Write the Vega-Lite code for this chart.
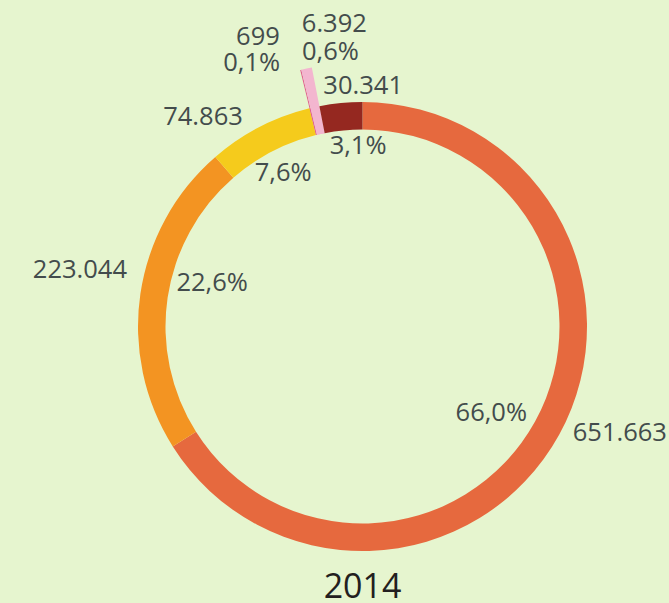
{
  "$schema": "https://vega.github.io/schema/vega-lite/v6.json",
  "autosize": {"type": "none"},
  "padding": {"left": 62.5, "top": 86.5, "right": 6.5, "bottom": 36.5},
  "width": 600,
  "height": 480,
  "background": "#E6F5CF",
  "config": {"view": {"stroke": null}, "text": {"font": "Open Sans", "fontSize": 25.5, "color": "#434c4c"}},
  "title": {"text": "2014", "orient": "bottom", "offset": -20, "font": "Open Sans", "fontSize": 34, "fontWeight": "normal", "color": "#231f20", "baseline": "top", "anchor": "middle"},
  "data": {"values": [
    {"idx": 1, "cat": "A", "value": 651663, "label": "651.663", "pct": "66,0%"},
    {"idx": 2, "cat": "B", "value": 223044, "label": "223.044", "pct": "22,6%"},
    {"idx": 3, "cat": "C", "value": 74863, "label": "74.863", "pct": "7,6%"},
    {"idx": 4, "cat": "D", "value": 699, "label": "699", "pct": "0,1%"},
    {"idx": 5, "cat": "E", "value": 6392, "label": "6.392", "pct": "0,6%"},
    {"idx": 6, "cat": "F", "value": 30341, "label": "30.341", "pct": "3,1%"}
  ]},
  "encoding": {
    "theta": {"field": "value", "type": "quantitative", "stack": true},
    "order": {"field": "idx", "type": "quantitative"},
    "detail": {"field": "cat", "type": "nominal"}
  },
  "layer": [
    {
      "mark": {"type": "arc", "radius": 264, "radius2": 197},
      "encoding": {
        "color": {"field": "cat", "type": "nominal", "legend": null, "scale": {"domain": ["A", "B", "C", "D", "E", "F"], "range": ["#E6693E", "#F39422", "#F5CB1C", "#E0638F", "#F3B6CF", "#952820"]}},
        "opacity": {"condition": {"test": "datum.cat === 'D' || datum.cat === 'E'", "value": 1}, "value": 0}
      }
    },
    {
      "mark": {"type": "arc", "radius": 224.5, "radius2": 197},
      "encoding": {
        "color": {"field": "cat", "type": "nominal", "legend": null, "scale": {"domain": ["A", "B", "C", "D", "E", "F"], "range": ["#E6693E", "#F39422", "#F5CB1C", "#E0638F", "#F3B6CF", "#952820"]}}
      }
    },
    {"mark": {"type": "text", "radius": 155, "dx": -7, "dy": 12},
     "encoding": {"text": {"condition": {"test": "datum.cat === 'A'", "field": "pct"}, "value": ""}}},
    {"mark": {"type": "text", "radius": 240, "align": "left", "dy": -9},
     "encoding": {"text": {"condition": {"test": "datum.cat === 'A'", "field": "label"}, "value": ""}}},
    {"mark": {"type": "text", "radius": 152, "dy": -21},
     "encoding": {"text": {"condition": {"test": "datum.cat === 'B'", "field": "pct"}, "value": ""}}},
    {"mark": {"type": "text", "radius": 238, "align": "right", "dy": -22},
     "encoding": {"text": {"condition": {"test": "datum.cat === 'B'", "field": "label"}, "value": ""}}},
    {"mark": {"type": "text", "radius": 173},
     "encoding": {"text": {"condition": {"test": "datum.cat === 'C'", "field": "pct"}, "value": ""}}},
    {"mark": {"type": "text", "radius": 250, "align": "right", "dx": -5, "dy": 12.5},
     "encoding": {"text": {"condition": {"test": "datum.cat === 'C'", "field": "label"}, "value": ""}}},
    {"mark": {"type": "text", "radius": 298, "align": "right", "dx": -13},
     "encoding": {"text": {"condition": {"test": "datum.cat === 'D'", "field": "label"}, "value": ""}}},
    {"mark": {"type": "text", "radius": 271, "align": "right", "dx": -19},
     "encoding": {"text": {"condition": {"test": "datum.cat === 'D'", "field": "pct"}, "value": ""}}},
    {"mark": {"type": "text", "radius": 310, "align": "left", "dx": 5},
     "encoding": {"text": {"condition": {"test": "datum.cat === 'E'", "field": "label"}, "value": ""}}},
    {"mark": {"type": "text", "radius": 281, "align": "left", "dx": -1},
     "encoding": {"text": {"condition": {"test": "datum.cat === 'E'", "field": "pct"}, "value": ""}}},
    {"mark": {"type": "text", "radius": 181, "dx": 13},
     "encoding": {"text": {"condition": {"test": "datum.cat === 'F'", "field": "pct"}, "value": ""}}},
    {"mark": {"type": "text", "radius": 242, "dx": 24},
     "encoding": {"text": {"condition": {"test": "datum.cat === 'F'", "field": "label"}, "value": ""}}}
  ]
}
